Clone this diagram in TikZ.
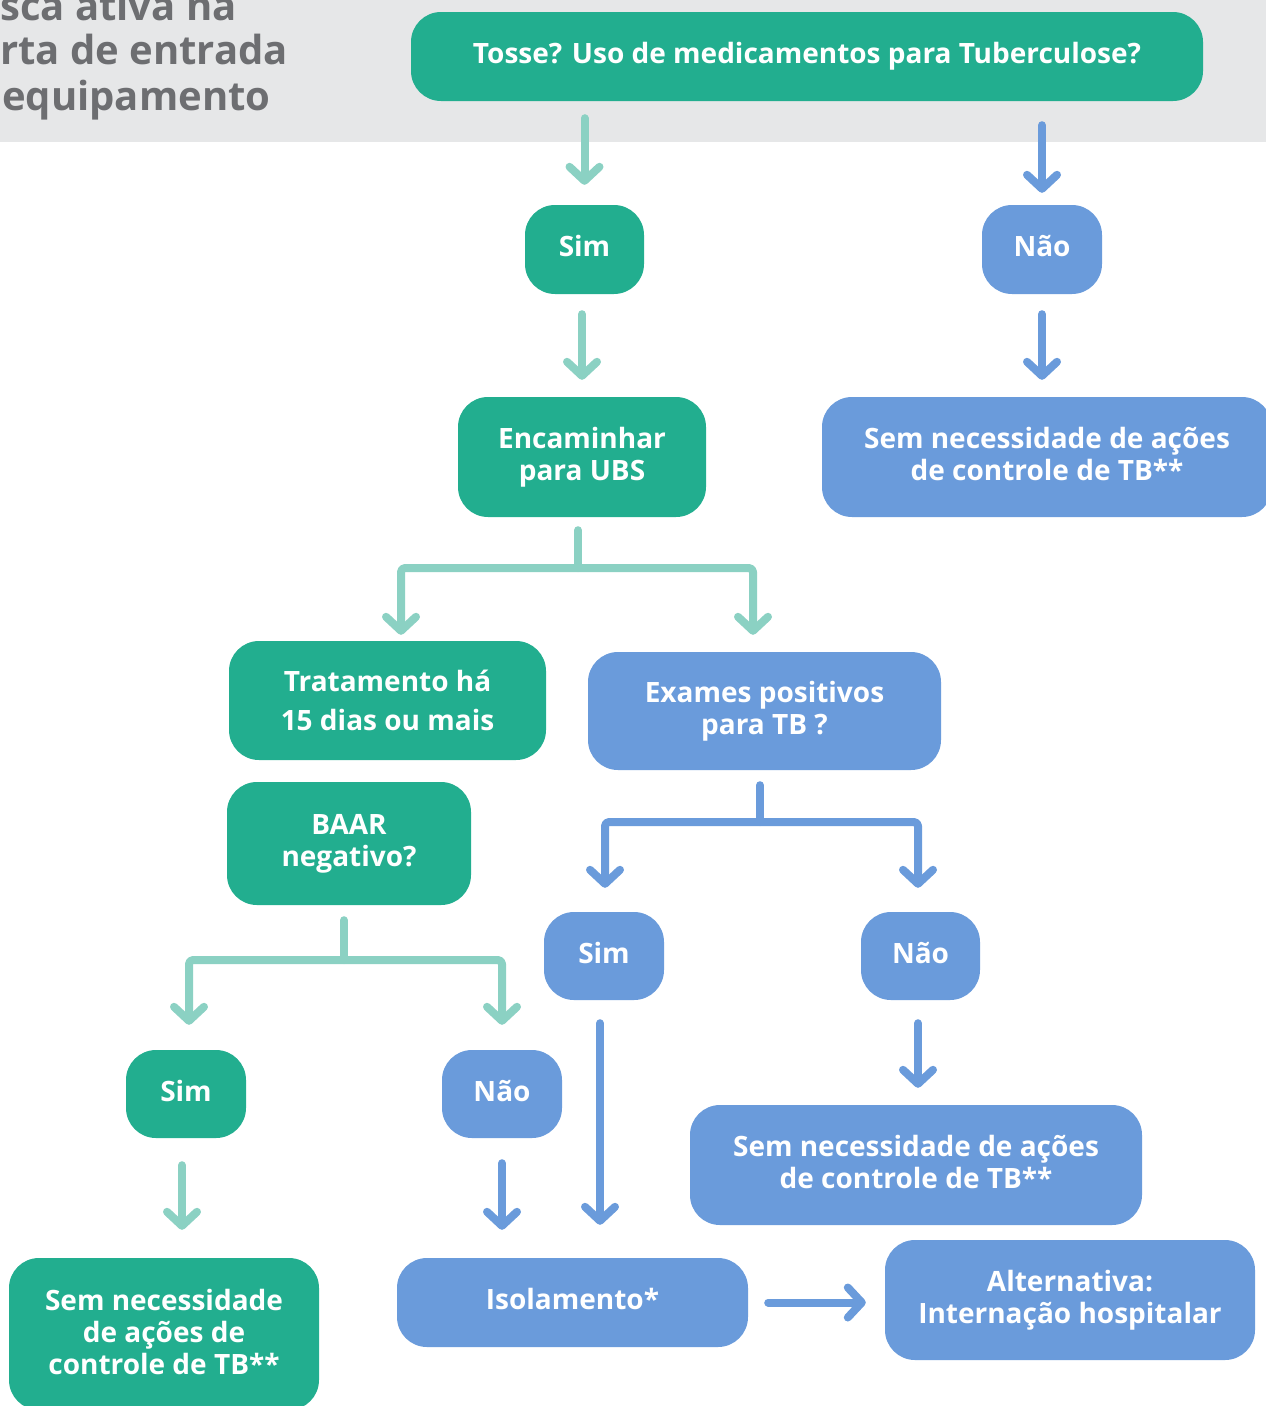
\documentclass[tikz,border=0pt]{standalone}
\usepackage{fontspec}
\setmainfont{Open Sans}
\usetikzlibrary{arrows.meta}
\definecolor{tbgreen}{HTML}{22AE8F}
\definecolor{tblgreen}{HTML}{8BD1C3}
\definecolor{tbblue}{HTML}{6A9BDB}
\definecolor{bandgray}{HTML}{E6E7E8}
\definecolor{titlegray}{HTML}{6D6E71}
\tikzset{
  basebox/.style={rounded corners=30pt, inner sep=0pt, text=white, align=center,
    text depth=7pt, font=\fontsize{28}{32}\selectfont\bfseries},
  gbox/.style={basebox, fill=tbgreen},
  bbox/.style={basebox, fill=tbblue},
  gline/.style={draw=tblgreen, line width=8pt, line cap=round, line join=round, rounded corners=4pt},
  bline/.style={draw=tbblue, line width=8pt, line cap=round, line join=round, rounded corners=4pt},
  garrow/.style={gline, -{Straight Barb[length=14pt,width=30pt,round]}},
  barrow/.style={bline, -{Straight Barb[length=14pt,width=30pt,round]}},
  titletext/.style={text=titlegray, inner sep=0pt, font=\fontsize{40}{46}\selectfont\bfseries}
}
\begin{document}
\begin{tikzpicture}[x=1pt,y=-1pt]
\useasboundingbox (0,0) rectangle (1266,1406);
\fill[bandgray] (0,0) rectangle (1266,142);
\node[titletext, anchor=base west] (ttl1) at (0,20) {sca ativa na};
\node[titletext, anchor=base west] (ttl2) at (0,64) {rta de entrada};
\node[titletext, anchor=base west] (ttl3) at (2,110) {equipamento};

\node[gbox, minimum width=792pt, minimum height=89pt] (tosse) at (807,56.5) {Tosse? Uso de medicamentos para Tuberculose?};
\node[gbox, minimum width=119pt, minimum height=89pt] (sim1) at (584.5,249.5) {Sim};
\node[bbox, minimum width=120pt, minimum height=89pt] (nao1) at (1042,249.5) {Não};
\node[gbox, minimum width=248pt, minimum height=120pt] (enc) at (582,457) {Encaminhar\\para UBS};
\node[bbox, minimum width=450pt, minimum height=120pt] (sem1) at (1047,457) {Sem necessidade de ações\\de controle de TB**};
\node[gbox, minimum width=317pt, minimum height=119pt, text depth=0pt, font=\fontsize{28}{39}\selectfont\bfseries] (trat) at (387.5,700.5) {Tratamento há\\15 dias ou mais};
\node[bbox, minimum width=353pt, minimum height=118pt] (exames) at (764.5,711) {Exames positivos\\para TB ?};
\node[gbox, minimum width=244pt, minimum height=123pt] (baar) at (349,843.5) {BAAR\\negativo?};
\node[bbox, minimum width=120pt, minimum height=88pt] (sim2) at (604,956) {Sim};
\node[bbox, minimum width=119pt, minimum height=88pt] (nao2) at (920.5,956) {Não};
\node[gbox, minimum width=120pt, minimum height=88pt] (sim3) at (186,1094) {Sim};
\node[bbox, minimum width=120pt, minimum height=88pt] (nao3) at (502,1094) {Não};
\node[bbox, minimum width=452pt, minimum height=120pt] (sem2) at (916,1165) {Sem necessidade de ações\\de controle de TB**};
\node[gbox, minimum width=310pt, minimum height=152pt, text depth=4pt] (sem3) at (164,1334) {Sem necessidade\\de ações de\\controle de TB**};
\node[bbox, minimum width=351pt, minimum height=89pt] (iso) at (572.5,1302.5) {Isolamento*};
\node[bbox, minimum width=370pt, minimum height=120pt] (alt) at (1070,1300) {Alternativa:\\Internação hospitalar};

% junction coordinates
\coordinate (j1) at (578,568);
\coordinate (j1l) at (401,568);
\coordinate (j1r) at (753,568);
\coordinate (j2) at (760,822);
\coordinate (j2l) at (605,822);
\coordinate (j2r) at (918,822);
\coordinate (j3) at (344,960);
\coordinate (j3l) at (189,960);
\coordinate (j3r) at (502,960);

% top arrows
\draw[garrow, shorten <=17pt, shorten >=20pt] (sim1.north |- tosse.south) -- (sim1.north);
\draw[barrow, shorten <=24pt, shorten >=12pt] (nao1.north |- tosse.south) -- (nao1.north);
\draw[garrow, shorten <=20pt, shorten >=17pt] (enc.north |- sim1.south) -- (enc.north);
\draw[barrow, shorten <=20pt, shorten >=17pt] (nao1.south) -- (nao1.south |- sem1.north);

% branch from Encaminhar
\draw[gline, shorten <=13pt] (enc.south -| j1) -- (j1);
\draw[garrow, shorten >=6pt] (j1) -- (j1l) -- (trat.north -| j1l);
\draw[garrow, shorten >=17pt] (j1) -- (j1r) -- (exames.north -| j1r);

% branch from Exames
\draw[bline, shorten <=15pt] (exames.south -| j2) -- (j2);
\draw[barrow, shorten >=24pt] (j2) -- (j2l) -- (sim2.north -| j2l);
\draw[barrow, shorten >=24pt] (j2) -- (j2r) -- (nao2.north -| j2r);

% branch from BAAR
\draw[gline, shorten <=15pt] (baar.south -| j3) -- (j3);
\draw[garrow, shorten >=25pt] (j3) -- (j3l) -- (sim3.north -| j3l);
\draw[garrow, shorten >=25pt] (j3) -- (j3r) -- (nao3.north -| j3r);

% lower arrows
\draw[barrow, shorten <=23pt, shorten >=33pt] ([xshift=-4pt]sim2.south) -- ([xshift=-4pt]sim2.south |- iso.north);
\draw[barrow, shorten <=23pt, shorten >=17pt] ([xshift=-2.5pt]nao2.south) -- ([xshift=-2.5pt]nao2.south |- sem2.north);
\draw[garrow, shorten <=27pt, shorten >=28pt] ([xshift=-4pt]sim3.south) -- ([xshift=-4pt]sim3.south |- sem3.north);
\draw[barrow, shorten <=25pt, shorten >=28pt] (nao3.south) -- (nao3.south |- iso.north);
\draw[barrow, shorten <=20pt, shorten >=19pt] (iso.east) -- (iso.east -| alt.west);
\end{tikzpicture}
\end{document}
